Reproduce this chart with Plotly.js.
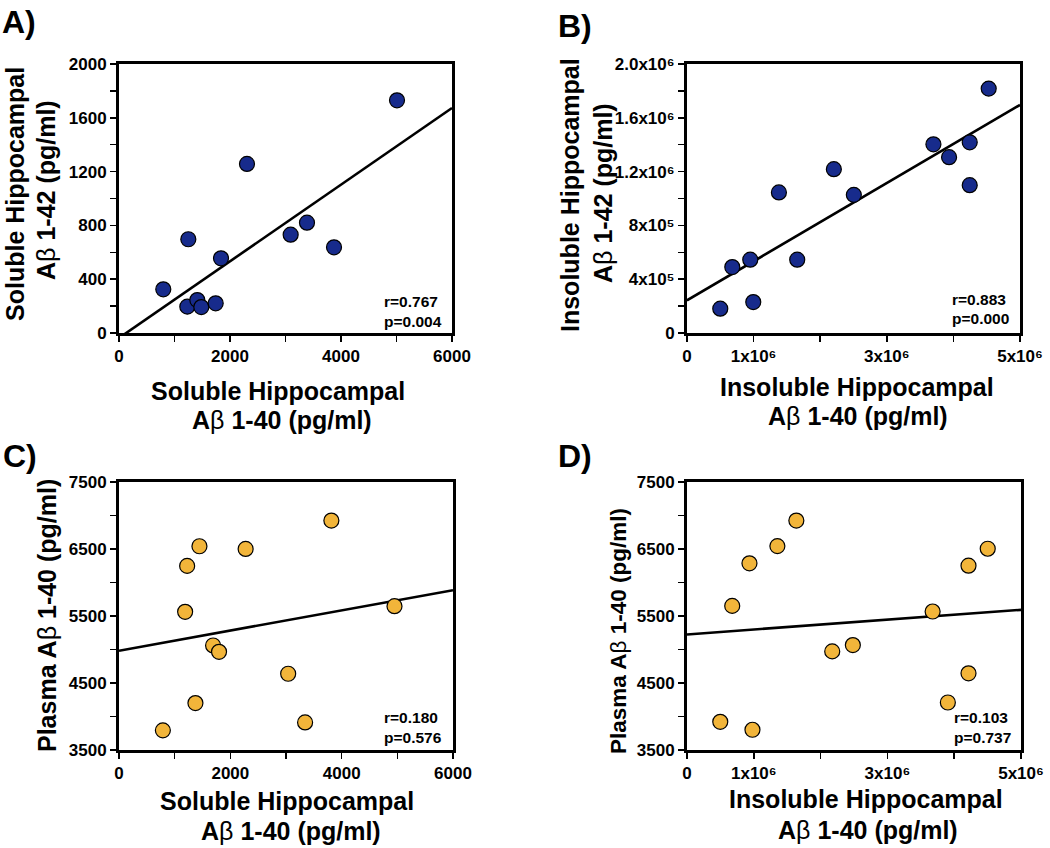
<!DOCTYPE html>
<html>
<head>
<meta charset="utf-8">
<script src="https://cdn.plot.ly/plotly-3.0.1.min.js"></script>
<style>
  html, body { margin: 0; padding: 0; background: #ffffff; }
  #chart { width: 1050px; height: 848px; }
</style>
</head>
<body>
<div id="chart"></div>
<script>
// ---------------- DATA ----------------
// Panel A: soluble hippocampal Aβ1-40 vs Aβ1-42 (pg/ml)
const solubleAb40_A = [798, 1249, 1231, 1411, 1483, 1742, 1838, 2306, 3093, 3387, 3874, 5009];
const solubleAb42_A = [325, 697, 196, 245, 193, 221, 555, 1257, 731, 820, 637, 1730];
// Panel B: insoluble hippocampal Aβ1-40 vs Aβ1-42 (pg/ml)
const insolubleAb40_B = [499500, 680000, 950000, 995000, 1380000, 1655000, 2205000, 2505000, 3700000, 3935000, 4245000, 4245000, 4530000];
const insolubleAb42_B = [181000, 490000, 545000, 230000, 1045000, 545000, 1218000, 1027000, 1403000, 1307000, 1418000, 1099000, 1817000];
// Panel C: soluble hippocampal Aβ1-40 vs plasma Aβ1-40 (pg/ml)
const solubleAb40_C = [788, 1188, 1224, 1373, 1445, 1690, 1797, 2275, 3039, 3343, 3815, 4949];
const plasmaAb40_C = [3793, 5562, 6248, 4200, 6541, 5060, 4966, 6501, 4638, 3912, 6924, 5647];
// Panel D: insoluble hippocampal Aβ1-40 vs plasma Aβ1-40 (pg/ml)
const insolubleAb40_D = [498000, 677000, 935000, 980000, 1353000, 1637000, 2174000, 2483000, 3677000, 3905000, 4214000, 4214000, 4502000];
const plasmaAb40_D = [3921, 5651, 6286, 3802, 6543, 6925, 4972, 5066, 5567, 4209, 6251, 4645, 6504];

// Regression lines
const fitSlopes = [0.285, 0.2906, 0.1507, 0.0000734];
const fitIntercepts = [-37, 243000, 4981, 5225];
// Statistics
const rValues = ['0.767', '0.883', '0.180', '0.103'];
const pValues = ['0.004', '0.000', '0.576', '0.737'];
const panelLetters = ['A)', 'B)', 'C)', 'D)'];

// Tick values / labels
const solubleTickVals = [0, 2000, 4000, 6000];
const solubleTickText = ['0', '2000', '4000', '6000'];
const insolubleTickVals = [0, 1000000, 3000000, 5000000];
const insolubleTickText = ['0', '1x10⁶', '3x10⁶', '5x10⁶'];
const ab42TickVals = [0, 400, 800, 1200, 1600, 2000];
const ab42TickText = ['0', '400', '800', '1200', '1600', '2000'];
const insolAb42TickVals = [0, 400000, 800000, 1200000, 1600000, 2000000];
const insolAb42TickText = ['0', '4x10⁵', '8x10⁵', '1.2x10⁶', '1.6x10⁶', '2.0x10⁶'];
const plasmaTickVals = [3500, 4500, 5500, 6500, 7500];
const plasmaTickText = ['3500', '4500', '5500', '6500', '7500'];

// Axis titles
const xTitleSoluble = ['Soluble Hippocampal', 'A<span style="font-weight:normal">β</span> 1-40 (pg/ml)'];
const xTitleInsoluble = ['Insoluble Hippocampal', 'A<span style="font-weight:normal">β</span> 1-40 (pg/ml)'];
const yTitleA = ['Soluble Hippocampal', 'A<span style="font-weight:normal">β</span> 1-42 (pg/ml)'];
const yTitleB = ['Insoluble Hippocampal', 'A<span style="font-weight:normal">β</span> 1-42 (pg/ml)'];
const yTitlePlasma = 'Plasma A<span style="font-weight:normal">β</span> 1-40 (pg/ml)';

// ---------------- STYLE ----------------
const W = 1050, H = 848;
const FONT = '"Liberation Sans", Arial, Helvetica, "DejaVu Sans", sans-serif';
const BLUE = '#172b8c';
const ORANGE = '#f2b53a';
const px = v => v / W;
const py = v => 1 - v / H;

const xRanges = [[0, 6000], [0, 5000000], [0, 6000], [0, 5000000]];
const yRanges = [[0, 2000], [0, 2000000], [3500, 7500], [3500, 7500]];

function minorTicks(dtick, tick0) {
  return { dtick: dtick, tick0: tick0, ticks: 'outside', ticklen: 6, tickwidth: 1.5, tickcolor: '#000', showgrid: false };
}

function axisBase(range) {
  return {
    range: range,
    showgrid: false,
    zeroline: false,
    showline: true,
    linecolor: '#000',
    linewidth: 3,
    mirror: true,
    ticks: 'outside',
    ticklen: 6,
    tickwidth: 1.5,
    tickcolor: '#000',
    tickfont: { family: FONT, size: 17, color: '#000', weight: 'bold' },
    fixedrange: true
  };
}

const layout = {
  width: W,
  height: H,
  margin: { l: 0, r: 0, t: 0, b: 0 },
  paper_bgcolor: '#ffffff',
  plot_bgcolor: '#ffffff',
  showlegend: false,
  font: { family: FONT, color: '#000' },
  // Panel A
  xaxis: Object.assign(axisBase(xRanges[0]), {
    domain: [px(119), px(452)], anchor: 'y',
    tickmode: 'array', tickvals: solubleTickVals, ticktext: solubleTickText,
    minor: minorTicks(1000, 0)
  }),
  yaxis: Object.assign(axisBase(yRanges[0]), {
    domain: [py(333), py(64)], anchor: 'x',
    tickmode: 'array', tickvals: ab42TickVals, ticktext: ab42TickText,
    minor: minorTicks(200, 0)
  }),
  // Panel B
  xaxis2: Object.assign(axisBase(xRanges[1]), {
    domain: [px(687), px(1020)], anchor: 'y2',
    tickmode: 'array', tickvals: insolubleTickVals, ticktext: insolubleTickText,
    minor: minorTicks(1000000, 0)
  }),
  yaxis2: Object.assign(axisBase(yRanges[1]), {
    domain: [py(333), py(64)], anchor: 'x2',
    tickmode: 'array', tickvals: insolAb42TickVals, ticktext: insolAb42TickText,
    minor: minorTicks(200000, 0)
  }),
  // Panel C
  xaxis3: Object.assign(axisBase(xRanges[2]), {
    domain: [px(119), px(453)], anchor: 'y3',
    tickmode: 'array', tickvals: solubleTickVals, ticktext: solubleTickText,
    minor: minorTicks(1000, 0)
  }),
  yaxis3: Object.assign(axisBase(yRanges[2]), {
    domain: [py(750), py(482)], anchor: 'x3',
    tickmode: 'array', tickvals: plasmaTickVals, ticktext: plasmaTickText,
    minor: minorTicks(500, 3500)
  }),
  // Panel D
  xaxis4: Object.assign(axisBase(xRanges[3]), {
    domain: [px(687), px(1021)], anchor: 'y4',
    tickmode: 'array', tickvals: insolubleTickVals, ticktext: insolubleTickText,
    minor: minorTicks(1000000, 0)
  }),
  yaxis4: Object.assign(axisBase(yRanges[3]), {
    domain: [py(750), py(482)], anchor: 'x4',
    tickmode: 'array', tickvals: plasmaTickVals, ticktext: plasmaTickText,
    minor: minorTicks(500, 3500)
  }),
  annotations: []
};

// ---------------- TRACES ----------------
const panels = [
  { x: solubleAb40_A, y: solubleAb42_A, color: BLUE, xa: 'x', ya: 'y' },
  { x: insolubleAb40_B, y: insolubleAb42_B, color: BLUE, xa: 'x2', ya: 'y2' },
  { x: solubleAb40_C, y: plasmaAb40_C, color: ORANGE, xa: 'x3', ya: 'y3' },
  { x: insolubleAb40_D, y: plasmaAb40_D, color: ORANGE, xa: 'x4', ya: 'y4' }
];

const traces = [];
panels.forEach((p, i) => {
  const xr = xRanges[i];
  const lineX = [xr[0], xr[1]];
  const lineY = lineX.map(v => fitIntercepts[i] + fitSlopes[i] * v);
  traces.push({
    type: 'scatter', mode: 'lines', x: lineX, y: lineY,
    xaxis: p.xa, yaxis: p.ya,
    line: { color: '#000', width: 2.6 },
    hoverinfo: 'skip'
  });
  traces.push({
    type: 'scatter', mode: 'markers', x: p.x, y: p.y,
    xaxis: p.xa, yaxis: p.ya,
    marker: { size: 15, color: p.color, line: { color: '#000', width: 1.2 } },
    cliponaxis: false
  });
});

// ---------------- ANNOTATIONS ----------------
function ann(text, x, y, size, opts) {
  return Object.assign({
    xref: 'paper', yref: 'paper', x: px(x), y: py(y),
    text: text, showarrow: false,
    xanchor: 'center', yanchor: 'middle',
    font: { family: FONT, size: size, color: '#000', weight: 'bold' }
  }, opts || {});
}

// Panel letters
const letterPos = [[0, 22], [556, 26], [1, 456], [556, 456]];
panelLetters.forEach((t, i) => {
  layout.annotations.push(ann(t, letterPos[i][0], letterPos[i][1], 32, { xanchor: 'left' }));
});

// r / p statistics
const statPos = [[382, 301, 321], [950, 299, 319], [382, 717, 737], [952, 717, 737]];
rValues.forEach((r, i) => {
  layout.annotations.push(ann('r=' + r, statPos[i][0], statPos[i][1], 15.5, { xanchor: 'left' }));
  layout.annotations.push(ann('p=' + pValues[i], statPos[i][0], statPos[i][2], 15.5, { xanchor: 'left' }));
});

// X axis titles
const xTitles = [
  [xTitleSoluble, [278, 391], [282, 420]],
  [xTitleInsoluble, [857, 387], [858, 416]],
  [xTitleSoluble, [287, 801], [291, 831]],
  [xTitleInsoluble, [866, 799], [868, 830]]
];
xTitles.forEach(t => {
  layout.annotations.push(ann(t[0][0], t[1][0], t[1][1], 25));
  layout.annotations.push(ann(t[0][1], t[2][0], t[2][1], 25));
});

// Y axis titles (rotated)
layout.annotations.push(ann(yTitleA[0], 15, 194, 25, { textangle: -90 }));
layout.annotations.push(ann(yTitleA[1], 46, 190, 25, { textangle: -90 }));
layout.annotations.push(ann(yTitleB[0], 570, 195, 25, { textangle: -90 }));
layout.annotations.push(ann(yTitleB[1], 603, 193, 25, { textangle: -90 }));
layout.annotations.push(ann(yTitlePlasma, 47, 616, 25, { textangle: -90 }));
layout.annotations.push(ann(yTitlePlasma, 618, 631, 22.5, { textangle: -90 }));

Plotly.newPlot('chart', traces, layout, { staticPlot: true, displayModeBar: false });
</script>
</body>
</html>
